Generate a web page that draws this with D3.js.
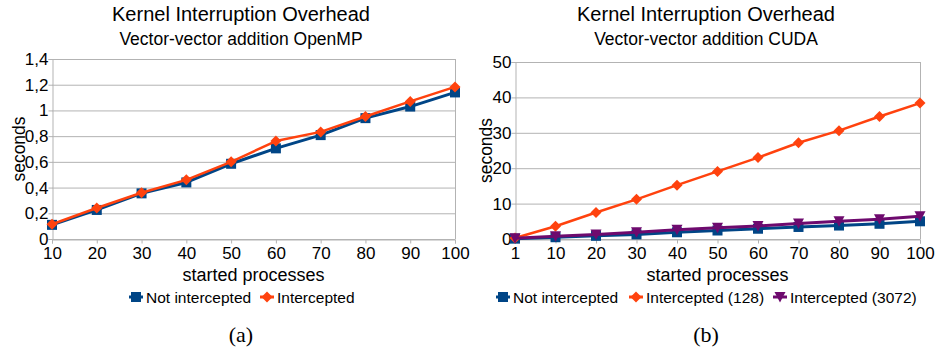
<!DOCTYPE html>
<html>
<head>
<meta charset="utf-8">
<script src="https://d3js.org/d3.v7.min.js"></script>
<style>
    body { margin: 0; background: #fff; }
    svg { display: block; }
    text { font-family: "Liberation Sans", Arial, sans-serif; fill: #000; }
    .grid line { stroke: #b3b3b3; stroke-width: 1; }
    .axis path, .axis line { stroke: #b3b3b3; stroke-width: 1; }
    .axis text { font-size: 17px; }
    .caption { font-family: "Liberation Serif", "Times New Roman", serif; font-size: 22px; }
</style>
</head>
<body>
<div id="chart"></div>
<script>
    // ---- data ----
    var catsA = ["10", "20", "30", "40", "50", "60", "70", "80", "90", "100"];
    var notInterceptedA = [0.11, 0.226, 0.355, 0.44, 0.585, 0.705, 0.808, 0.94, 1.03, 1.14];
    var interceptedA = [0.115, 0.241, 0.36, 0.46, 0.6, 0.762, 0.833, 0.953, 1.07, 1.183];
    var yTicksA = [0, 0.2, 0.4, 0.6, 0.8, 1, 1.2, 1.4];

    var catsB = ["1", "10", "20", "30", "40", "50", "60", "70", "80", "90", "100"];
    var notInterceptedB = [0.1, 0.5, 0.9, 1.3, 1.9, 2.4, 2.9, 3.4, 3.8, 4.3, 5.0];
    var intercepted128B = [0.3, 3.6, 7.5, 11.2, 15.2, 19.1, 23.0, 27.2, 30.6, 34.6, 38.4];
    var intercepted3072B = [0.2, 0.75, 1.25, 1.9, 2.6, 3.2, 3.7, 4.4, 5.0, 5.6, 6.4];
    var yTicksB = [0, 10, 20, 30, 40, 50];

    var blue = "#004586", orange = "#ff420e", purple = "#6e0a6e";

    var svg = d3.select("#chart").append("svg")
        .attr("width", 935)
        .attr("height", 348);

    var comma = d3.formatLocale({ decimal: ",", thousands: ".", grouping: [3], currency: ["", ""] }).format("~g");

    function drawMarker(g, shape, x, y, color) {
        if (shape == "square") {
            g.append("rect")
                .attr("x", x - 5).attr("y", y - 5)
                .attr("width", 10).attr("height", 10)
                .attr("fill", color);
        } else if (shape == "diamond") {
            g.append("path")
                .attr("d", "M" + x + "," + (y - 5.5) + "L" + (x + 5.5) + "," + y + "L" + x + "," + (y + 5.5) + "L" + (x - 5.5) + "," + y + "Z")
                .attr("fill", color);
        } else {
            g.append("path")
                .attr("d", "M" + (x - 5.5) + "," + (y - 5) + "L" + (x + 5.5) + "," + (y - 5) + "L" + x + "," + (y + 5.5) + "Z")
                .attr("fill", color);
        }
    }

    function drawChart(opt) {
        var x = d3.scalePoint().domain(opt.cats).range([opt.left, opt.right]).padding(0);
        var y = d3.scaleLinear().domain([0, opt.yMax]).range([opt.bottom, opt.top]);
        var g = svg.append("g");

        // titles
        g.append("text")
            .attr("x", opt.titleX).attr("y", 21)
            .attr("text-anchor", "middle")
            .style("font-size", "20px")
            .text("Kernel Interruption Overhead");
        g.append("text")
            .attr("x", opt.titleX).attr("y", 45)
            .attr("text-anchor", "middle")
            .style("font-size", "17.5px")
            .text(opt.subtitle);

        // grid
        g.append("g").attr("class", "grid")
            .selectAll("line")
            .data(opt.yTicks)
            .enter().append("line")
            .attr("x1", opt.left).attr("x2", opt.right)
            .attr("y1", function (d) { return y(d) + 0.5; })
            .attr("y2", function (d) { return y(d) + 0.5; });
        // right border
        g.append("line")
            .attr("x1", opt.right + 0.5).attr("x2", opt.right + 0.5)
            .attr("y1", opt.top).attr("y2", opt.bottom)
            .attr("stroke", "#b3b3b3");

        // axes
        g.append("g").attr("class", "axis")
            .attr("transform", "translate(0," + (opt.bottom + 0.5) + ")")
            .call(d3.axisBottom(x).tickSizeOuter(0).tickSize(4).tickPadding(3));
        g.append("g").attr("class", "axis")
            .attr("transform", "translate(" + (opt.left + 0.5) + ",0)")
            .call(d3.axisLeft(y).tickValues(opt.yTicks).tickFormat(comma).tickSizeOuter(0).tickSize(4).tickPadding(0));

        // axis titles
        g.append("text")
            .attr("x", (opt.left + opt.right) / 2).attr("y", 281)
            .attr("text-anchor", "middle")
            .style("font-size", "18px")
            .text("started processes");
        g.append("text")
            .attr("transform", "translate(" + opt.yTitleX + "," + ((opt.top + opt.bottom) / 2) + ") rotate(-90)")
            .attr("text-anchor", "middle")
            .style("font-size", "17.5px")
            .text("seconds");

        // series
        opt.series.forEach(function (s) {
            var line = d3.line()
                .x(function (d, i) { return x(opt.cats[i]); })
                .y(function (d) { return y(d); });
            g.append("path")
                .datum(s.values)
                .attr("fill", "none")
                .attr("stroke", s.color)
                .attr("stroke-width", s.width)
                .attr("stroke-linejoin", "round")
                .attr("d", line);
            var mg = g.append("g");
            s.values.forEach(function (v, i) {
                drawMarker(mg, s.shape, x(opt.cats[i]), y(v), s.color);
            });
        });

        // legend
        var lg = g.append("g");
        opt.series.forEach(function (s, i) {
            var lx = opt.legendX[i];
            lg.append("line")
                .attr("x1", lx - 7).attr("x2", lx + 7)
                .attr("y1", 297).attr("y2", 297)
                .attr("stroke", s.color).attr("stroke-width", 3);
            drawMarker(lg, s.shape, lx, 297, s.color);
            lg.append("text")
                .attr("x", lx + 10).attr("y", 302.5)
                .style("font-size", "15.5px")
                .text(s.name);
        });

        g.append("text")
            .attr("class", "caption")
            .attr("x", opt.titleX).attr("y", 342)
            .attr("text-anchor", "middle")
            .text(opt.caption);
    }

    drawChart({
        cats: catsA, yMax: 1.4, yTicks: yTicksA,
        left: 52, right: 455, top: 59, bottom: 239,
        titleX: 241, yTitleX: 25,
        subtitle: "Vector-vector addition OpenMP",
        caption: "(a)",
        legendX: [136, 267],
        series: [
            { name: "Not intercepted", values: notInterceptedA, color: blue, shape: "square", width: 3 },
            { name: "Intercepted", values: interceptedA, color: orange, shape: "diamond", width: 2.5 }
        ]
    });

    drawChart({
        cats: catsB, yMax: 50, yTicks: yTicksB,
        left: 515, right: 920, top: 62, bottom: 239,
        titleX: 706, yTitleX: 492,
        subtitle: "Vector-vector addition CUDA",
        caption: "(b)",
        legendX: [503, 636, 780],
        series: [
            { name: "Not intercepted", values: notInterceptedB, color: blue, shape: "square", width: 3 },
            { name: "Intercepted (128)", values: intercepted128B, color: orange, shape: "diamond", width: 2.5 },
            { name: "Intercepted (3072)", values: intercepted3072B, color: purple, shape: "triangle", width: 3 }
        ]
    });
</script>
</body>
</html>
